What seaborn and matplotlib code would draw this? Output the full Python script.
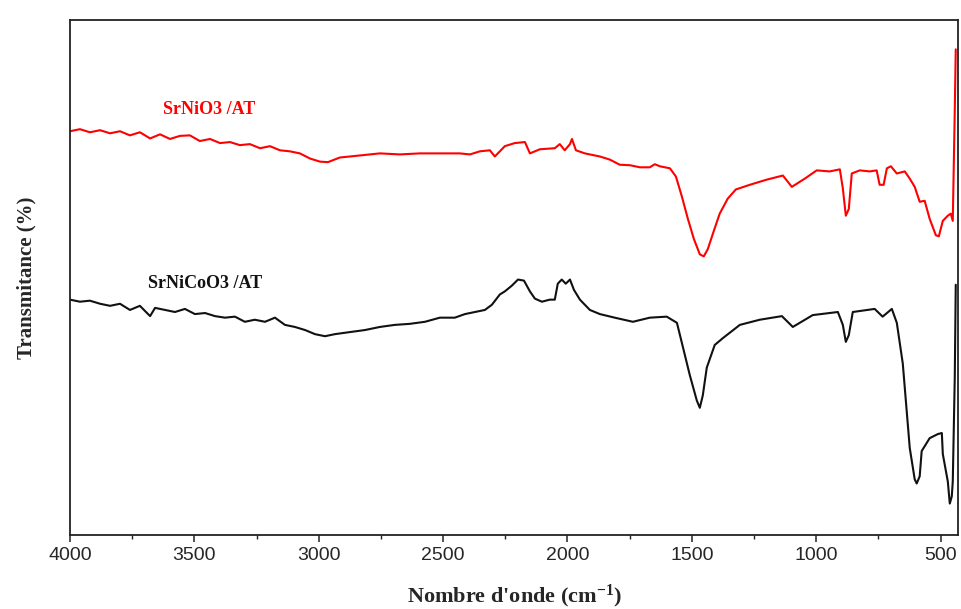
import matplotlib
matplotlib.use("Agg")
import matplotlib.pyplot as plt
from matplotlib.ticker import MultipleLocator
import pandas as pd
import seaborn as sns

# FTIR spectra (wavenumber in cm-1, transmittance in arbitrary %)
wn_srnio3 = [4000, 3960, 3920, 3879, 3839, 3799, 3759, 3719, 3678, 3638, 3598, 3558,
             3518, 3478, 3437, 3397, 3357, 3317, 3277, 3236, 3196, 3156, 3116, 3076,
             3035, 2995, 2963, 2915, 2834, 2754, 2674, 2593, 2513, 2433, 2392, 2352,
             2312, 2292, 2252, 2212, 2171, 2151, 2111, 2051, 2031, 2011, 1990, 1982,
             1966, 1930, 1870, 1830, 1790, 1749, 1709, 1669, 1649, 1629, 1588, 1564,
             1540, 1516, 1492, 1468, 1452, 1436, 1412, 1388, 1356, 1323, 1267, 1199,
             1134, 1098, 1046, 998, 946, 905, 893, 881, 869, 857, 825, 785, 757, 745,
             729, 716, 700, 676, 644, 624, 604, 584, 564, 544, 519, 507, 491, 471, 459,
             451, 443, 439]
t_srnio3 = [78.4, 78.8, 78.2, 78.6, 78.0, 78.4, 77.6, 78.2, 77.0, 77.8, 76.9, 77.5,
            77.6, 76.5, 76.9, 76.1, 76.3, 75.7, 75.9, 75.1, 75.5, 74.7, 74.5, 74.1,
            73.1, 72.5, 72.4, 73.3, 73.7, 74.1, 73.9, 74.1, 74.1, 74.1, 73.9, 74.5,
            74.7, 73.5, 75.5, 76.1, 76.3, 74.1, 74.9, 75.1, 75.9, 74.7, 75.9, 76.9,
            74.7, 74.1, 73.5, 72.9, 71.9, 71.8, 71.4, 71.4, 72.0, 71.6, 71.2, 69.6,
            65.7, 61.4, 57.5, 54.5, 54.1, 55.5, 59.0, 62.4, 65.3, 67.1, 68.0, 69.0,
            69.8, 67.6, 69.2, 70.8, 70.6, 71.0, 67.3, 62.0, 63.3, 70.2, 70.8, 70.6,
            70.8, 68.0, 68.0, 71.2, 71.6, 70.2, 70.6, 69.2, 67.6, 64.7, 64.9, 61.4,
            58.2, 58.0, 61.0, 62.0, 62.4, 61.0, 82.4, 94.3]

wn_srnicoo3 = [4000, 3960, 3920, 3879, 3839, 3799, 3759, 3719, 3678, 3658, 3618, 3578,
               3538, 3498, 3457, 3417, 3377, 3337, 3297, 3257, 3216, 3176, 3136, 3096,
               3055, 3015, 2975, 2935, 2875, 2814, 2754, 2694, 2634, 2573, 2513, 2453,
               2412, 2372, 2332, 2304, 2272, 2252, 2224, 2199, 2175, 2151, 2131, 2103,
               2071, 2051, 2039, 2023, 2007, 1990, 1974, 1950, 1910, 1870, 1810, 1737,
               1669, 1601, 1560, 1536, 1508, 1480, 1468, 1456, 1440, 1408, 1376, 1307,
               1227, 1138, 1094, 1014, 913, 893, 881, 869, 853, 765, 733, 696, 676, 652,
               624, 604, 596, 584, 576, 544, 511, 495, 491, 471, 463, 455, 451, 443, 439]
t_srnicoo3 = [45.7, 45.3, 45.5, 44.9, 44.5, 44.9, 43.7, 44.5, 42.5, 44.1, 43.7, 43.3,
              43.9, 42.9, 43.1, 42.5, 42.2, 42.4, 41.4, 41.8, 41.4, 42.2, 40.8, 40.4,
              39.8, 39.0, 38.6, 39.0, 39.4, 39.8, 40.4, 40.8, 41.0, 41.4, 42.2, 42.2,
              42.9, 43.3, 43.7, 44.7, 46.7, 47.3, 48.4, 49.6, 49.4, 47.3, 45.9, 45.3,
              45.7, 45.7, 48.8, 49.6, 48.8, 49.6, 47.6, 45.7, 43.7, 42.9, 42.2, 41.4,
              42.2, 42.4, 41.2, 36.5, 31.0, 26.1, 24.7, 27.1, 32.5, 36.9, 38.2, 40.8,
              41.8, 42.5, 40.4, 42.7, 43.3, 40.8, 37.5, 38.8, 43.3, 43.9, 42.4, 43.9,
              41.2, 33.3, 16.9, 10.8, 10.0, 11.4, 16.3, 18.8, 19.6, 19.8, 15.7, 10.4,
              6.1, 7.5, 10.4, 30.6, 48.6]

sample_names = ["SrNiO3 /AT", "SrNiCoO3 /AT"]
sample_colors = ["#ff0000", "#111111"]
x_ticks = [4000, 3500, 3000, 2500, 2000, 1500, 1000, 500]

df = pd.concat([
    pd.DataFrame({"wn": wn_srnio3, "T": t_srnio3, "sample": sample_names[0]}),
    pd.DataFrame({"wn": wn_srnicoo3, "T": t_srnicoo3, "sample": sample_names[1]}),
], ignore_index=True)

sns.set_theme(style="ticks")
plt.rcParams["font.family"] = ["Liberation Sans", "DejaVu Sans"]
plt.rcParams["mathtext.fontset"] = "custom"
plt.rcParams["mathtext.rm"] = "Liberation Serif:bold"
plt.rcParams["mathtext.bf"] = "Liberation Serif:bold"
plt.rcParams["mathtext.it"] = "Liberation Serif:bold"

W, H = 962, 609
fig = plt.figure(figsize=(W / 100, H / 100), dpi=100)
ax = fig.add_axes([70 / W, 1 - 535 / H, 888 / W, 515 / H])

for name, color in zip(sample_names, sample_colors):
    sub = df[df["sample"] == name]
    sns.lineplot(data=sub, x="wn", y="T", ax=ax, color=color, linewidth=1.5,
                 sort=False, estimator=None, legend=False)

ax.set_xlim(4000, 430)
ax.set_ylim(0, 100)
ax.set_xticks(x_ticks)
ax.set_xticklabels([str(t) for t in x_ticks])
ax.xaxis.set_minor_locator(MultipleLocator(250))
ax.set_yticks([])
ax.tick_params(axis="x", which="major", direction="out", length=5, width=1.1,
               labelsize=14, color="#222222", pad=4)
ax.tick_params(axis="x", which="minor", direction="out", length=3, width=1.0,
               color="#222222")
for side in ["left", "right", "top", "bottom"]:
    ax.spines[side].set_visible(True)
    ax.spines[side].set_linewidth(1.3)
    ax.spines[side].set_color("#222222")

serif_bold = dict(family=["Liberation Serif", "DejaVu Serif"], weight="bold")
ax.set_xlabel("Nombre d'onde (cm$^{-1}$)", fontsize=16, labelpad=13, **serif_bold)
ax.set_ylabel("Transmitance (%)", fontsize=15, labelpad=24, **serif_bold)

# sample labels placed in figure pixel coordinates (from top-left)
fig.text(209 / W, 1 - 110 / H, sample_names[0], color="#ff0000", fontsize=13,
         ha="center", va="center", **serif_bold)
fig.text(205 / W, 1 - 283 / H, sample_names[1], color="#111111", fontsize=13,
         ha="center", va="center", **serif_bold)

fig.savefig("out.png", dpi=100)
